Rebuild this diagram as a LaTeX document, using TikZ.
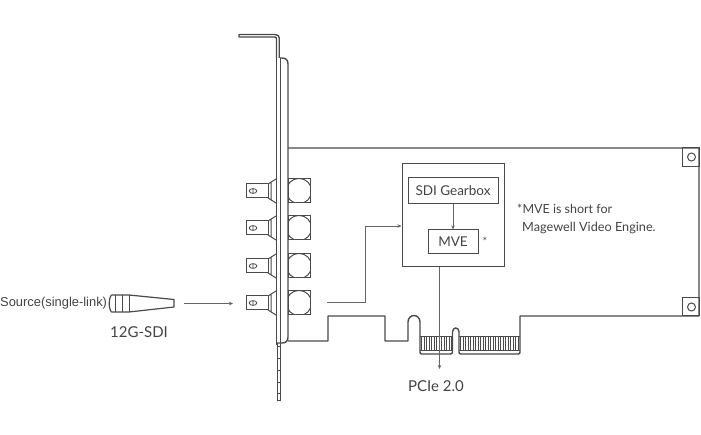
\documentclass[tikz,border=0pt]{standalone}
\usepackage{fontspec}
\setmainfont{Lato}
\newfontfamily\arialf{Liberation Sans}
\definecolor{ink}{HTML}{4A4A4A}
\definecolor{txt}{HTML}{444444}
\usetikzlibrary{arrows.meta}
\tikzset{
 outline/.style={draw=ink,line width=1pt},
 thick line/.style={draw=ink,line width=1.4pt},
 conn/.style={draw=ink!85,line width=0.6pt,-{Stealth[length=4pt,width=3.5pt]}},
 lbl/.style={text=txt,inner sep=0pt,anchor=center},
 boxn/.style={draw=ink,line width=1pt,inner sep=0pt,text=txt,font=\fontsize{13.5}{15}\selectfont}
}
\newcommand{\bncunit}[1]{%
 \draw[outline] (246,#1-7) rectangle (268,#1+7);
 \draw[outline] (268,#1-7) -- (276,#1-12) (268,#1+7) -- (276,#1+12) (271,#1-9) -- (271,#1+9);
 \draw[draw=ink,line width=.8pt] (253,#1) ellipse (3.8 and 2.4) (253,#1-2.4) -- (253,#1+2.4);
 \draw[outline] (288,#1-12) rectangle (310,#1+12);
 \begin{scope}
 \clip (288,#1-12) rectangle (310,#1+12);
 \draw[outline] (299,#1) circle (12.6);
 \end{scope}
}
\begin{document}
\begin{tikzpicture}[x=1pt,y=-1pt]
\useasboundingbox[fill=white] (0,0) rectangle (701,435);
% bracket
\draw[thick line,line join=round] (276.5,58) -- (276.5,39) .. controls (276.5,37.5) and (276,37) .. (274.5,37) -- (239,37) -- (239,34.5) -- (275,34.5) .. controls (278,34.5) and (279.2,36) .. (279.2,38) -- (279.2,58);
\draw[outline] (276.5,58) -- (276.5,345) (280.5,58) -- (280.5,343);
\draw[thick line] (280,58) -- (282,58) .. controls (286,58) and (288,60) .. (288,64) -- (288,337) .. controls (288,341) and (286,343) .. (282,343) -- (277,343);
\draw[outline] (277,343) -- (277,400.5) -- (280,400.5) -- (280,343);
\foreach \yy in {346,358,370,382,393} \draw[draw=ink,line width=.7pt] (277,\yy) -- (280,\yy);
% connectors
\bncunit{191}\bncunit{228}\bncunit{266}\bncunit{303}
% board
\draw[thick line,line join=round] (288,148) -- (699,148) -- (699,316) -- (520,316) -- (520,337)
 (288,341) -- (328,341) -- (328,316) -- (385,316) -- (385,341) -- (408,341) -- (408,322)
 .. controls (408,318) and (411,315.5) .. (414,315.5) .. controls (417,315.5) and (420,318) .. (420,322) -- (420,337);
\draw[outline] (682,148) rectangle (699,167) (682,298) rectangle (699,316);
\draw[outline] (691.5,157) circle (4) (691.5,307) circle (4);
% gold fingers
\foreach \xx in {421.5,424,...,451.5} \draw[draw=ink,line width=.8pt] (\xx,337) -- (\xx,350);
\foreach \xx in {460.5,463,...,519.5} \draw[draw=ink,line width=.8pt] (\xx,337) -- (\xx,350);
\draw[outline] (420,337) -- (452,337) (459,337) -- (520,337) (420,350) -- (452,350) (459,350) -- (520,350);
\draw[thick line] (420,337) -- (420,352) .. controls (420,353.5) and (420.5,354) .. (422,354) -- (450,354) .. controls (451.5,354) and (452.5,353.5) .. (452.5,352) -- (452.5,332)
 .. controls (452.5,329.5) and (454,328) .. (455.8,328) .. controls (457.6,328) and (459,329.5) .. (459,332) -- (459,352) .. controls (459,353.5) and (459.5,354) .. (461,354) -- (518,354) .. controls (519.5,354) and (520,353.5) .. (520,352) -- (520,337);
% chip
\node[draw=ink,line width=1pt,minimum width=102pt,minimum height=103pt,inner sep=0pt] (chip) at (453,215.5) {};
\node[boxn,minimum width=90pt,minimum height=26pt] (gear) at (453,191) {SDI Gearbox};
\node[boxn,minimum width=50pt,minimum height=24pt] (mve) at (453,242) {MVE};
\node[lbl,font=\fontsize{11}{12}\selectfont] (star) at (485,241) {*};
\draw[conn] (gear) -- (mve);
\coordinate (outA) at (327,302);
\draw[conn] (outA) -- (365,302) -- (365,226) -- (chip.west |- 0,226);
\coordinate (pcieEnd) at (439.5,369);
\draw[conn] (439.5,267) -- (pcieEnd);
% texts
\node[lbl,font=\fontsize{15}{17}\selectfont] (pcie) at (436,386) {PCIe 2.0};
\node[lbl,anchor=west,font=\fontsize{12.5}{14}\selectfont] (n1) at (517,208.5) {*MVE is short for};
\node[lbl,anchor=west,font=\fontsize{12.7}{14}\selectfont] (n2) at (522,227.5) {Magewell Video Engine.};
\node[lbl,anchor=west,font=\arialf\fontsize{12.9}{15}\selectfont] (src) at (0,303) {Source(single-link)};
\node[lbl,font=\fontsize{15}{17}\selectfont] (sdi) at (139,332) {12G-SDI};
% plug
\draw[outline,line width=1.2pt,line join=round] (111.5,295) -- (129,295) -- (174,299.5) -- (174,307) -- (129,312) -- (111.5,312)
 .. controls (108.5,309) and (108.5,298) .. (111.5,295);
\draw[outline] (115,295) -- (115,312) (122,295) -- (122,312) (129,295) -- (129,312);
\coordinate (plugOut) at (184,303.5);
\coordinate (plugIn) at (233,303.5);
\draw[conn] (plugOut) -- (plugIn);
\end{tikzpicture}
\end{document}
